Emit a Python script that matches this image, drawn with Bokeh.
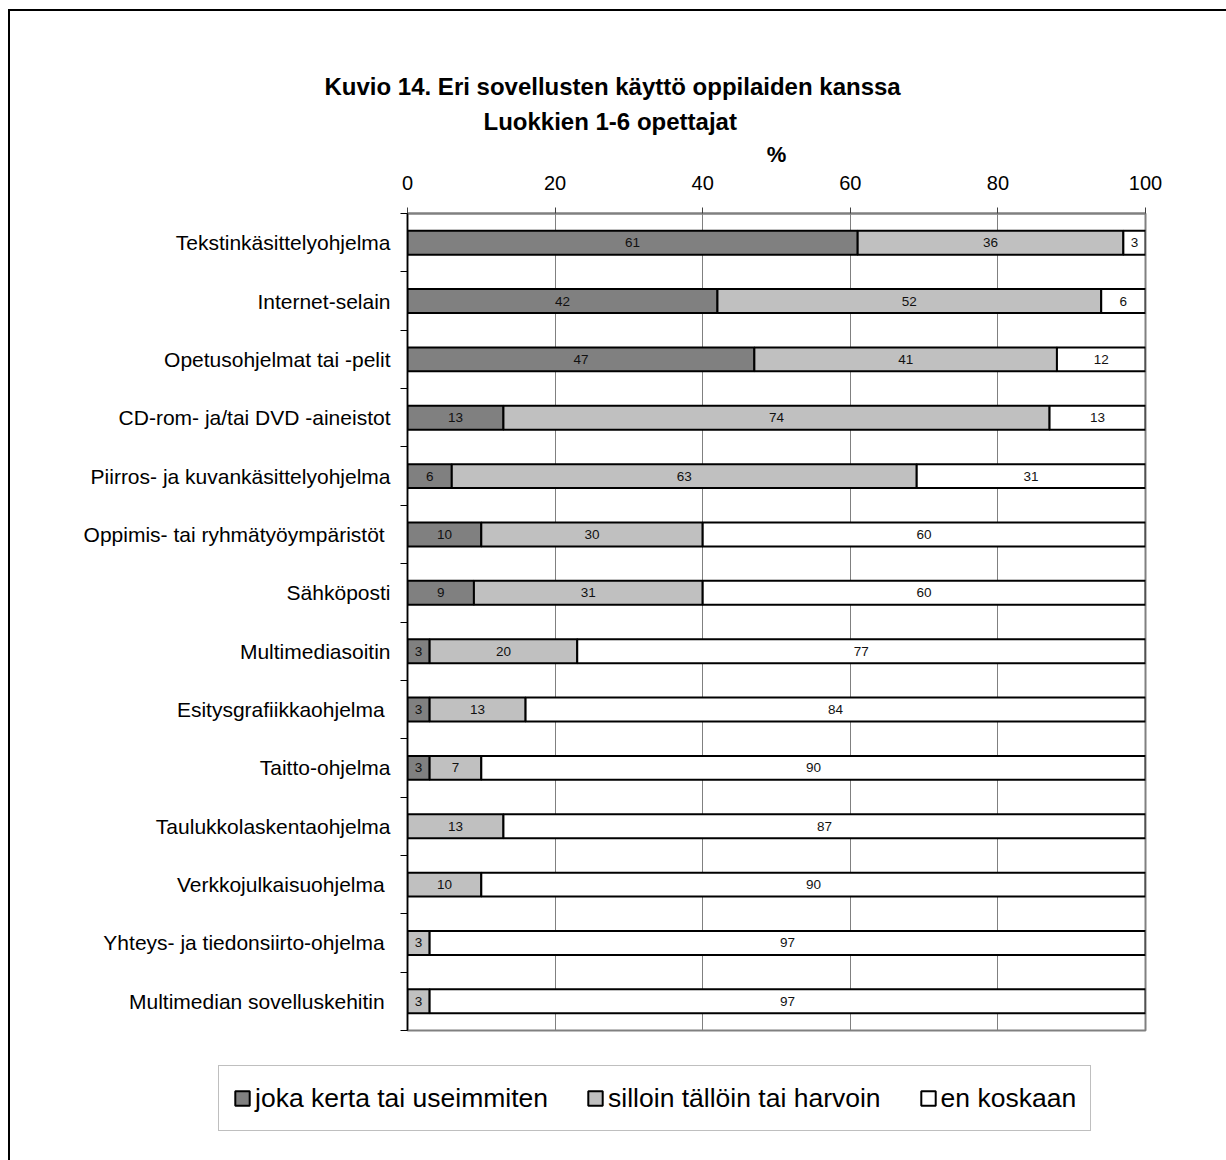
from bokeh.plotting import figure
from bokeh.layouts import column
from bokeh.models import (ColumnDataSource, Range1d, FixedTicker, Legend, LegendItem,
                          Title)
from bokeh.core.properties import value
from bokeh.embed import file_html
from bokeh.resources import INLINE

# ---- data -------------------------------------------------------------
categories = [
    "Tekstinkäsittelyohjelma",
    "Internet-selain",
    "Opetusohjelmat tai -pelit",
    "CD-rom- ja/tai DVD -aineistot",
    "Piirros- ja kuvankäsittelyohjelma",
    "Oppimis- tai ryhmätyöympäristöt ",
    "Sähköposti",
    "Multimediasoitin",
    "Esitysgrafiikkaohjelma ",
    "Taitto-ohjelma",
    "Taulukkolaskentaohjelma",
    "Verkkojulkaisuohjelma ",
    "Yhteys- ja tiedonsiirto-ohjelma ",
    "Multimedian sovelluskehitin ",
]
always = [61, 42, 47, 13, 6, 10, 9, 3, 3, 3, 0, 0, 0, 0]
sometimes = [36, 52, 41, 74, 63, 30, 31, 20, 13, 7, 13, 10, 3, 3]
never = [3, 6, 12, 13, 31, 60, 60, 77, 84, 90, 87, 90, 97, 97]
series_names = ["joka kerta tai useimmiten", "silloin tällöin tai harvoin", "en koskaan"]
series_colors = ["#808080", "#C0C0C0", "#FFFFFF"]
x_ticks = [0, 20, 40, 60, 80, 100]
title_lines = ["Kuvio 14. Eri sovellusten käyttö oppilaiden kanssa", "Luokkien 1-6 opettajat"]

FONT = "Liberation Sans"
W = 1226
CHART_H, LEGEND_H = 1060, 100
FRAME_L, FRAME_R, FRAME_T, FRAME_B = 407, 1145, 213, 1030
n = len(categories)

# ---- stacked segments ---------------------------------------------------
ys = [i + 0.5 for i in range(n)]
l0 = [0] * n
r0 = list(always)
l1 = r0
r1 = [a + b for a, b in zip(always, sometimes)]
l2 = r1
r2 = [a + b + c for a, b, c in zip(always, sometimes, never)]
src = ColumnDataSource(dict(y=ys, l0=l0, r0=r0, l1=l1, r1=r1, l2=l2, r2=r2))

p = figure(width=W, height=CHART_H, x_range=Range1d(0, 100), y_range=Range1d(n, 0),
           x_axis_location="above", output_backend="svg", toolbar_location=None,
           min_border_left=FRAME_L, min_border_right=W - FRAME_R,
           min_border_top=FRAME_T, min_border_bottom=CHART_H - FRAME_B)
p.background_fill_color = "white"
p.border_fill_color = "white"
p.outline_line_color = "#808080"
p.outline_line_width = 2

# page frame: thin black rule along the left and top edges
p.stylesheets = [
    ":host::after { content: ''; position: absolute; left: 8px; top: 9px; "
    "right: 0; bottom: 0; border-left: 2px solid #000; border-top: 2px solid #000; "
    "pointer-events: none; }"
]

# grid
p.ygrid.visible = False
p.xgrid.ticker = FixedTicker(ticks=x_ticks[1:-1])
p.xgrid.grid_line_color = "#808080"
p.xgrid.grid_line_width = 1

# top axis
xax = p.xaxis[0]
xax.ticker = FixedTicker(ticks=x_ticks)
xax.axis_label = "%"
xax.axis_label_text_font = FONT
xax.axis_label_text_font_style = "bold"
xax.axis_label_text_font_size = "22px"
xax.axis_label_text_color = "black"
xax.axis_label_standoff = 6
xax.major_label_text_font = FONT
xax.major_label_text_font_size = "20px"
xax.major_label_text_color = "black"
xax.major_label_standoff = 18
xax.major_tick_out = 6
xax.major_tick_in = 0
xax.major_tick_line_color = "#404040"
xax.minor_tick_line_color = None
xax.axis_line_color = "#808080"
xax.axis_line_width = 2

# left axis: names at band centres, tick marks at band boundaries
yax = p.yaxis[0]
yax.ticker = FixedTicker(ticks=ys, minor_ticks=list(range(n + 1)))
yax.major_label_overrides = {y: c for y, c in zip(ys, categories)}
yax.major_label_text_font = FONT
yax.major_label_text_font_size = "21px"
yax.major_label_text_color = "black"
yax.major_label_standoff = 10
yax.major_tick_line_color = None
yax.major_tick_out = 0
yax.major_tick_in = 0
yax.minor_tick_line_color = "black"
yax.minor_tick_out = 7
yax.minor_tick_in = 0
yax.axis_line_color = "black"
yax.axis_line_width = 1.5

bar_kw = dict(height=0.41, line_color="black", line_width=2)
p.hbar(y="y", left="l0", right="r0", fill_color=series_colors[0], source=src, **bar_kw)
p.hbar(y="y", left="l1", right="r1", fill_color=series_colors[1], source=src, **bar_kw)
p.hbar(y="y", left="l2", right="r2", fill_color=series_colors[2], source=src, **bar_kw)

# value labels in the middle of each segment
lx, ly, lt = [], [], []
for vals, lefts, rights in ((always, l0, r0), (sometimes, l1, r1), (never, l2, r2)):
    for i, v in enumerate(vals):
        if v > 0:
            lx.append((lefts[i] + rights[i]) / 2.0)
            ly.append(ys[i])
            lt.append(str(v))
p.text(x=lx, y=ly, text=lt, text_align="center", text_baseline="middle",
       text_font=value(FONT), text_font_size="13.5px", text_color="#111111")

# two-line title, centred over the whole chart
title_kw = dict(text_font=FONT, text_font_size="24px", text_font_style="bold",
                text_color="black", align="left")
p.add_layout(Title(text=title_lines[1], offset=483 - FRAME_L, standoff=8, **title_kw), "above")
p.add_layout(Title(text=title_lines[0], offset=324 - FRAME_L, standoff=4, **title_kw), "above")

# ---- legend strip below the chart ----------------------------------------
leg = figure(width=W, height=LEGEND_H, x_range=Range1d(0, 1), y_range=Range1d(0, 1),
             x_axis_type=None, y_axis_type=None, output_backend="svg",
             toolbar_location=None, min_border=0)
leg.outline_line_color = None
leg.background_fill_color = "white"
leg.border_fill_color = "white"
leg.stylesheets = [
    ":host::after { content: ''; position: absolute; left: 8px; top: 0; "
    "bottom: 0; border-left: 2px solid #000; pointer-events: none; }"
]
# key glyphs for the legend (kept outside the visible range of this strip)
swatches = [leg.hbar(y=[-1], left=[0], right=[0], fill_color=c, **bar_kw)
            for c in series_colors]
legend = Legend(
    items=[LegendItem(label=name, renderers=[r]) for name, r in zip(series_names, swatches)],
    orientation="horizontal", location=(218, LEGEND_H - (1131 - CHART_H)),
    border_line_color="#808080", border_line_width=1.5,
    background_fill_color="white", background_fill_alpha=1,
    label_text_font=FONT, label_text_font_size="26.5px", label_text_color="black",
    glyph_width=18, glyph_height=18, label_standoff=4, spacing=38,
    padding=14, margin=0, label_height=36,
)
leg.add_layout(legend)

if "frame_align" in leg.properties():
    p.frame_align = False
    leg.frame_align = False
    html = file_html(column(p, leg, spacing=0), INLINE)
else:
    html = file_html((p, leg), INLINE)

open("out.html", "w").write(html)
